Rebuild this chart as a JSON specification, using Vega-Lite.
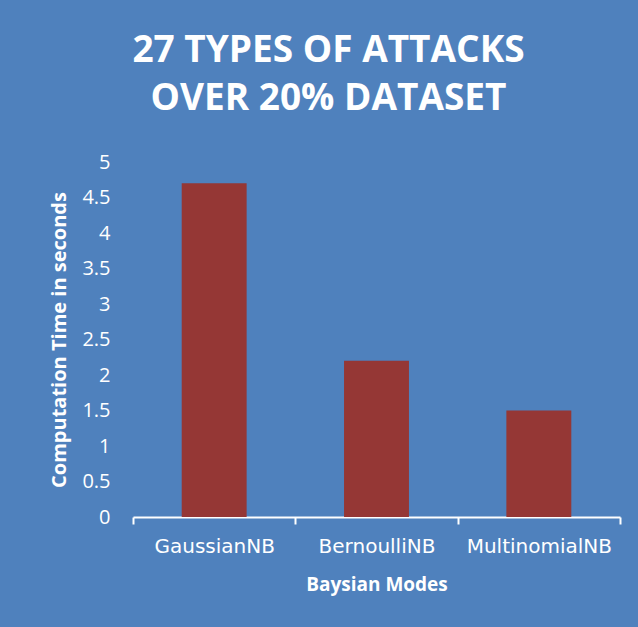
{
  "$schema": "https://vega.github.io/schema/vega-lite/v6.json",
  "width": 487,
  "height": 355,
  "autosize": {"type": "none"},
  "padding": {"left": 133, "top": 162, "right": 18, "bottom": 110},
  "background": "#4F81BD",
  "title": {
    "text": ["27 TYPES OF ATTACKS", "OVER 20% DATASET"],
    "color": "white",
    "font": "Open Sans",
    "fontWeight": "bold",
    "fontSize": 37,
    "lineHeight": 48,
    "anchor": "middle",
    "frame": "group",
    "dx": -48,
    "offset": 34
  },
  "data": {
    "values": [
      {"model": "GaussianNB", "time": 4.7},
      {"model": "BernoulliNB", "time": 2.2},
      {"model": "MultinomialNB", "time": 1.5}
    ]
  },
  "mark": {"type": "bar", "color": "#953735", "width": {"band": 0.4}},
  "encoding": {
    "x": {
      "field": "model",
      "type": "nominal",
      "sort": null,
      "scale": {"paddingInner": 0, "paddingOuter": 0},
      "axis": {
        "title": "Baysian Modes",
        "labelAngle": 0,
        "tickBand": "extent",
        "domainColor": "white",
        "domainWidth": 2,
        "tickColor": "white",
        "tickWidth": 2,
        "tickSize": 7,
        "labelColor": "white",
        "labelFont": "DejaVu Sans",
        "labelFontSize": 20,
        "labelPadding": 12,
        "titleColor": "white",
        "titleFont": "Open Sans",
        "titleFontWeight": "bold",
        "titleFontSize": 19,
        "titlePadding": 19
      }
    },
    "y": {
      "field": "time",
      "type": "quantitative",
      "scale": {"domain": [0, 5]},
      "axis": {
        "title": "Computation Time in seconds",
        "values": [0, 0.5, 1, 1.5, 2, 2.5, 3, 3.5, 4, 4.5, 5],
        "format": "~g",
        "grid": false,
        "domain": false,
        "ticks": false,
        "tickSize": 0,
        "labelColor": "white",
        "labelFont": "Open Sans",
        "labelFontSize": 20,
        "labelPadding": 23,
        "titleColor": "white",
        "titleFont": "Open Sans",
        "titleFontWeight": "bold",
        "titleFontSize": 20,
        "titlePadding": 12
      }
    }
  },
  "config": {"view": {"stroke": null}}
}
